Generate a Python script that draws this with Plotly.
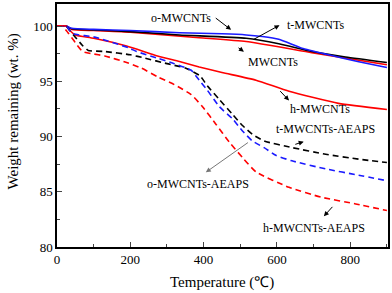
import plotly.graph_objects as go

# ---- data ----
mw_x = [0, 25, 40, 100, 200, 334, 516, 605, 695, 787, 900]
mw_y = [100, 100, 99.75, 99.65, 99.5, 99.2, 98.9, 98.4, 97.7, 97.2, 96.7]

t_x = [0, 25, 40, 100, 200, 334, 450, 516, 560, 605, 668, 741, 820, 900]
t_y = [100, 100, 99.8, 99.7, 99.6, 99.4, 99.3, 99.2, 99.05, 98.8, 98.0, 97.4, 96.8, 96.25]

o_x = [0, 25, 40, 100, 200, 388, 516, 695, 900]
o_y = [100, 100, 99.7, 99.6, 99.45, 98.95, 98.6, 97.6, 96.5]

h_x = [0, 25, 35, 50, 100, 190, 274, 334, 388, 450, 543, 633, 768, 900]
h_y = [100, 100, 99.6, 99.2, 98.9, 98.2, 97.3, 96.8, 96.3, 95.8, 95.1, 94.1, 93.0, 92.45]

hA_x = [0, 15, 30, 50, 70, 95, 130, 190, 230, 275, 320, 366, 397, 434, 470, 506, 543, 633, 722, 815, 900]
hA_y = [100, 100, 99.4, 98.5, 97.7, 97.5, 97.3, 96.7, 96.2, 95.4, 94.7, 93.8, 92.7, 91.1, 89.5, 88.1, 86.8, 85.4, 84.5, 83.9, 83.3]

tA_x = [0, 25, 35, 50, 68, 85, 130, 200, 240, 300, 350, 390, 410, 443, 479, 506, 533, 565, 641, 733, 823, 900]
tA_y = [100, 100, 99.6, 99.0, 98.3, 97.8, 97.7, 97.4, 97.1, 96.6, 96.2, 95.5, 94.6, 93.35, 92.0, 91.0, 90.2, 89.6, 89.0, 88.4, 87.95, 87.65]

oA_x = [0, 25, 35, 45, 103, 198, 217, 274, 320, 366, 388, 410, 443, 479, 506, 533, 565, 597, 641, 733, 823, 900]
oA_y = [100, 100, 99.6, 99.3, 99.0, 98.0, 97.7, 97.1, 96.6, 96.0, 95.1, 94.2, 92.7, 91.6, 90.5, 89.6, 89.0, 88.3, 87.8, 87.07, 86.5, 86.0]

x_ticks = [0, 200, 400, 600, 800]
y_ticks = [80, 85, 90, 95, 100]

# labels: (text, x, y) and arrows: (head_x, head_y, tail_x, tail_y, color)
labels = [
    ("o-MWCNTs", 339, 100.74),
    ("t-MWCNTs", 705, 100.13),
    ("MWCNTs", 589, 96.79),
    ("h-MWCNTs", 718, 92.45),
    ("t-MWCNTs-AEAPS", 732, 90.65),
    ("o-MWCNTs-AEAPS", 384, 85.7),
    ("h-MWCNTs-AEAPS", 702, 81.68),
]
arrows = [
    (475, 99.66, 429, 100.83, "black"),
    (607, 100.08, 533, 98.73, "black"),
    (510, 97.68, 491, 98.13, "black"),
    (633, 93.26, 605, 94.25, "black"),
    (673, 89.54, 646, 89.25, "black"),
    (406, 86.76, 525, 89.55, "#777777"),
    (728, 82.78, 755, 83.77, "black"),
]

RED = "#ff0000"
BLUE = "#1a1aff"
BLACK = "#000000"
DASH = "6px,4px"
FONT = "Times New Roman, Liberation Serif, serif"

fig = go.Figure()
series = [
    (o_x, o_y, RED, "solid", "MWCNTs"),
    (mw_x, mw_y, BLACK, "solid", "o-MWCNTs"),
    (t_x, t_y, BLUE, "solid", "t-MWCNTs"),
    (h_x, h_y, RED, "solid", "h-MWCNTs"),
    (tA_x, tA_y, BLACK, DASH, "t-MWCNTs-AEAPS"),
    (oA_x, oA_y, BLUE, DASH, "o-MWCNTs-AEAPS"),
    (hA_x, hA_y, RED, DASH, "h-MWCNTs-AEAPS"),
]
for xs, ys, c, d, n in series:
    fig.add_trace(go.Scatter(x=xs, y=ys, mode="lines", name=n,
                             line=dict(color=c, width=1.6, dash=d, shape="spline", smoothing=0.5)))

ann = []
for t, x, y in labels:
    ann.append(dict(text=t, x=x, y=y, xref="x", yref="y", showarrow=False,
                    xanchor="center", yanchor="middle",
                    font=dict(family=FONT, size=12, color="black")))
for hx, hy, tx, ty, c in arrows:
    ann.append(dict(text="", x=hx, y=hy, ax=tx, ay=ty, xref="x", yref="y",
                    axref="x", ayref="y", showarrow=True, arrowhead=2,
                    arrowsize=1, arrowwidth=1, arrowcolor=c))
ann.append(dict(text="Weight remaining (wt. %)", x=-0.132, y=0.559, xref="paper", yref="paper",
                xanchor="center", yanchor="middle",
                textangle=-90, showarrow=False, font=dict(family=FONT, size=15, color="black")))
ann.append(dict(text="Temperature (\u2103)", x=0.4985, y=-0.147, xref="paper", yref="paper",
                xanchor="center", yanchor="middle",
                showarrow=False, font=dict(family=FONT, size=15, color="black")))

fig.update_layout(
    width=392, height=293,
    margin=dict(l=57, r=2, t=2, b=46),
    paper_bgcolor="white", plot_bgcolor="white",
    showlegend=False,
    annotations=ann,
    font=dict(family=FONT, size=13, color="black"),
)
fig.update_xaxes(range=[0, 903], tickvals=x_ticks, ticks="inside", ticklen=5, tickwidth=1,
                 showline=True, linecolor="black", linewidth=1.5, mirror=True,
                 showgrid=False, zeroline=False,
                 minor=dict(dtick=100, tick0=0, ticks="inside", ticklen=3, tickwidth=1))
fig.update_yaxes(range=[80, 102], tickvals=y_ticks, ticks="inside", ticklen=5, tickwidth=1,
                 showline=True, linecolor="black", linewidth=1.5, mirror=True,
                 showgrid=False, zeroline=False,
                 minor=dict(dtick=2.5, tick0=80, ticks="inside", ticklen=3, tickwidth=1))

fig.write_html("out.html", config={"displayModeBar": False},
               post_script="document.body.style.margin='0px';")
